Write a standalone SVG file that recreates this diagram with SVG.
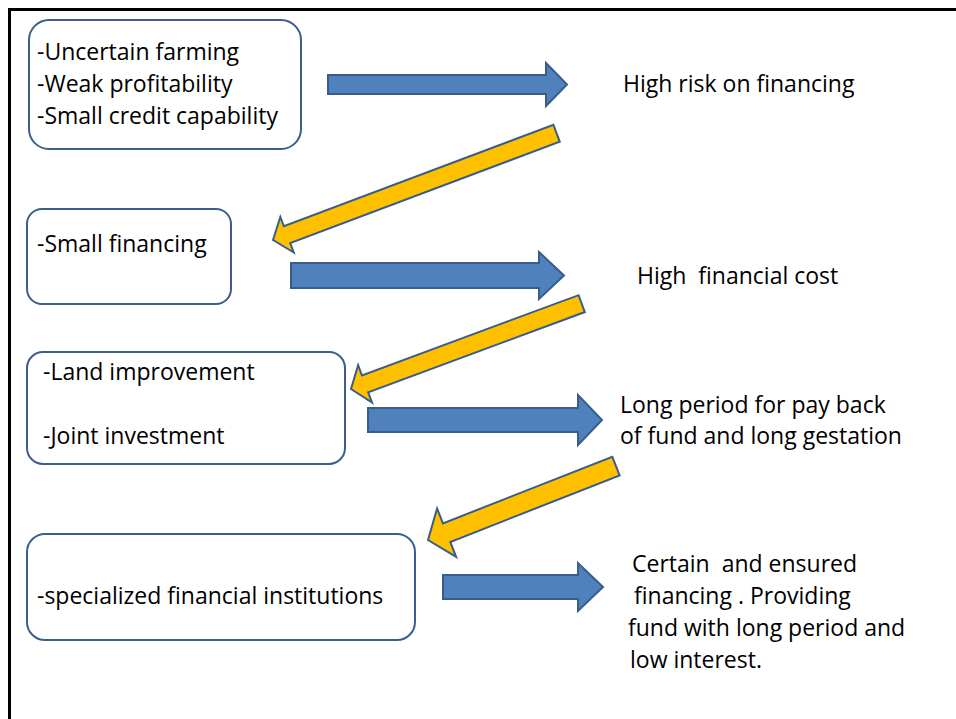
<svg xmlns="http://www.w3.org/2000/svg" width="956" height="719" viewBox="0 0 956 719">
<style>
.box{fill:#fff;stroke:#3b5f8c;stroke-width:2}
.blue{fill:#4f81bd;stroke:#385d8a;stroke-width:2;stroke-linejoin:miter}
.yel{fill:#ffc000;stroke:#385d8a;stroke-width:2;stroke-linejoin:miter}
text{font-family:"Open Sans","Liberation Sans",sans-serif;font-size:23px;fill:#000}
.pre{white-space:pre}
</style>
<rect width="956" height="719" fill="#fff"/>
<path d="M9.5,719 V9.5 H956" fill="none" stroke="#000" stroke-width="3"/>
<g id="n1">
<rect class="box" x="29" y="20" width="272" height="129" rx="20"/>
<text x="37" y="60">-Uncertain farming</text>
<text x="37" y="92">-Weak profitability</text>
<text x="37" y="124">-Small credit capability</text>
</g>
<g id="n2"><text x="623" y="92">High risk on financing</text></g>
<g id="n3">
<rect class="box" x="27" y="209" width="204" height="95" rx="15"/>
<text x="37" y="252">-Small financing</text>
</g>
<g id="n4"><text class="pre" xml:space="preserve" x="637" y="284">High  financial cost</text></g>
<g id="n5">
<rect class="box" x="27" y="352" width="318" height="112" rx="16"/>
<text x="43" y="380">-Land improvement</text>
<text x="43" y="444">-Joint investment</text>
</g>
<g id="n6">
<text x="620" y="413">Long period for pay back</text>
<text x="620" y="444">of fund and long gestation</text>
</g>
<g id="n7">
<rect class="box" x="27" y="534" width="388" height="106" rx="18"/>
<text x="37" y="604">-specialized financial institutions</text>
</g>
<g id="n8">
<text class="pre" xml:space="preserve" x="632" y="572">Certain  and ensured</text>
<text class="pre" xml:space="preserve" x="634" y="604">financing . Providing</text>
<text x="628" y="636">fund with long period and</text>
<text x="630" y="668">low interest.</text>
</g>
<g id="connectors">
<path class="blue" d="M328,75 H546 V63 L567,84.5 L546,106 V94 H328 Z"/>
<path class="yel" transform="translate(273,240) rotate(159.36)" d="M0,0 L-15,-19 L-15,-9 L-303,-9 L-303,9 L-15,9 L-15,19 Z"/>
<path class="blue" d="M291,263 H539 V252 L564,275.5 L539,299 V288 H291 Z"/>
<path class="yel" transform="translate(351,389) rotate(159.69)" d="M0,0 L-15,-20 L-15,-9 L-246,-9 L-246,9 L-15,9 L-15,20 Z"/>
<path class="blue" d="M368,408 H578 V395 L602,420 L578,445 V432 H368 Z"/>
<path class="yel" transform="translate(428,540) rotate(158.52)" d="M0,0 L-20,-26 L-20,-10 L-202,-10 L-202,10 L-20,10 L-20,26 Z"/>
<path class="blue" d="M443,575 H578 V563 L603,587 L578,611 V599 H443 Z"/>
</g>
</svg>
